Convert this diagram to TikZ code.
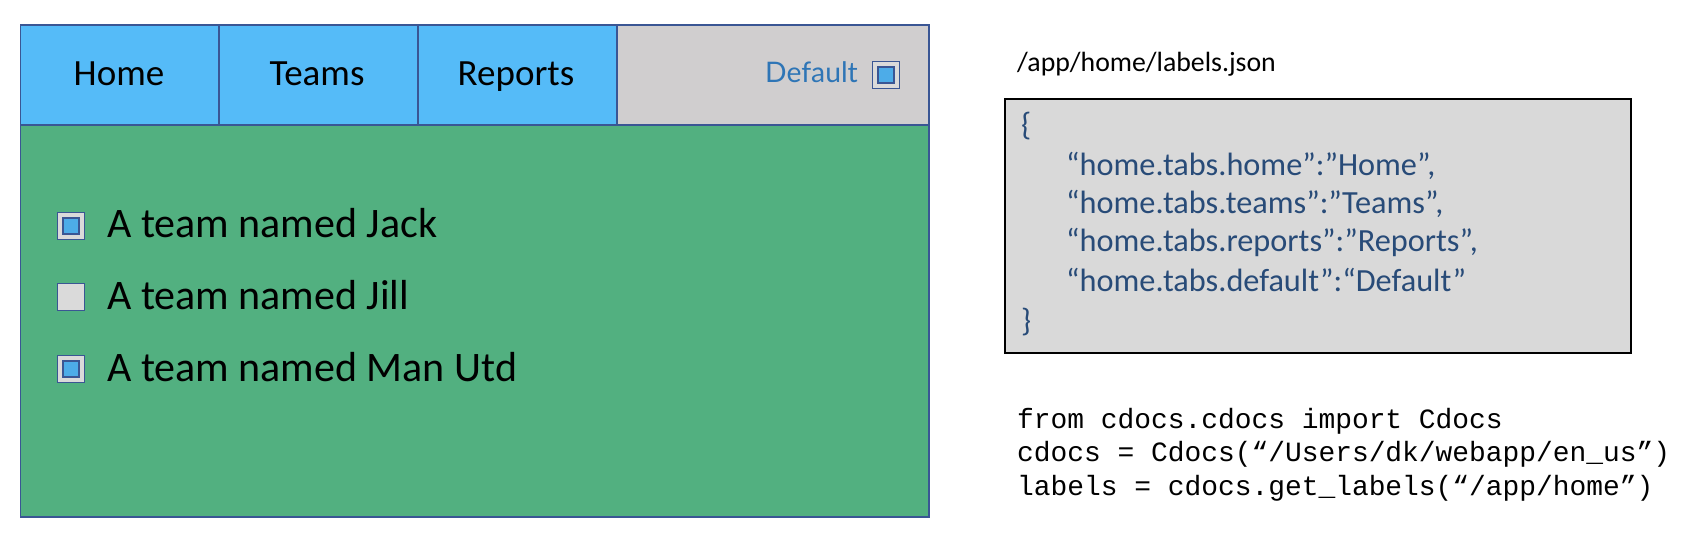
\documentclass[tikz,border=0pt]{standalone}
\usepackage{fontspec}
\setmainfont{Carlito}
\newfontfamily\avenirfont{Lato}
\newfontfamily\codefont{Liberation Mono}
\definecolor{tabblue}{RGB}{85,187,248}
\definecolor{tabgrey}{RGB}{208,206,207}
\definecolor{bodygreen}{RGB}{82,176,128}
\definecolor{frame}{RGB}{58,86,148}
\definecolor{deftext}{RGB}{46,117,182}
\definecolor{chkgrey}{RGB}{218,218,218}
\definecolor{chkblue}{RGB}{77,172,232}
\definecolor{jsonfill}{RGB}{217,217,217}
\definecolor{jsontext}{RGB}{40,75,120}
\tikzset{
  panel/.style={draw=frame, line width=1.5pt, inner sep=0pt, outer sep=0pt},
  tabbox/.style={panel, fill=tabblue, minimum height=100pt},
  tablabel/.style={anchor=base, inner sep=0pt, font=\fontsize{37}{44}\selectfont},
  chk/.style={draw=frame, line width=1.4pt, fill=chkgrey, minimum size=27pt, inner sep=0pt},
  chkin/.style={draw=frame, line width=1.4pt, fill=chkblue, minimum size=16pt, inner sep=0pt},
  itemlabel/.style={anchor=base west, inner sep=0pt, font=\fontsize{42}{48}\selectfont},
  jsonline/.style={anchor=base west, inner sep=0pt, text=jsontext, font=\fontsize{32.3}{38}\selectfont},
  codeline/.style={anchor=base west, inner sep=0pt, font=\codefont\fontsize{27.9}{33}\selectfont}
}
\begin{document}
\begin{tikzpicture}[x=1pt,y=-1pt]
\useasboundingbox (0,0) rectangle (1698,540);
\fill[white] (0,0) rectangle (1698,540);
% body
\node[panel, fill=bodygreen, minimum width=908.5pt, minimum height=392pt] (body) at (474.75,321) {};
% tabs
\node[tabbox, minimum width=198.5pt] (home) at (119.75,75) {};
\node[tabbox, minimum width=199pt] (teams) at (318.5,75) {};
\node[tabbox, minimum width=199pt] (reports) at (517.5,75) {};
\node[panel, fill=tabgrey, minimum width=312pt, minimum height=100pt] (deftab) at (773,75) {};
\node[tablabel] (homel) at (119,86) {Home};
\node[tablabel] (teamsl) at (317,86) {Teams};
\node[tablabel] (reportsl) at (516,86) {Reports};
\node[anchor=base east, inner sep=0pt, text=deftext, font=\avenirfont\fontsize{28.3}{33}\selectfont] (defl) at (858,83) {Default};
\node[chk] (dchk) at (886,75) {};
\node[chkin] (dchki) at (dchk) {};
% list
\node[chk] (c1) at (71,226) {};
\node[chkin] (c1i) at (c1) {};
\node[chk] (c2) at (71,297) {};
\node[chk] (c3) at (71,369) {};
\node[chkin] (c3i) at (c3) {};
\node[itemlabel] (t1) at (107,238) {A team named Jack};
\node[itemlabel] (t2) at (107,309) {A team named Jill};
\node[itemlabel] (t3) at (107,381) {A team named Man Utd};
% json
\node[anchor=base west, inner sep=0pt, font=\fontsize{27.8}{33}\selectfont] (path) at (1017,72) {/app/home/labels.json};
\node[draw=black, line width=2pt, fill=jsonfill, minimum width=626pt, minimum height=254pt, inner sep=0pt] (json) at (1318,226) {};
\node[jsonline] (j0) at (1021,136) {\{};
\node[jsonline] (j1) at (1066,176) {“home.tabs.home”:”Home”,};
\node[jsonline] (j2) at (1066,214) {“home.tabs.teams”:”Teams”,};
\node[jsonline] (j3) at (1066,252) {“home.tabs.reports”:”Reports”,};
\node[jsonline] (j4) at (1066,291) {“home.tabs.default”:“Default”};
\node[jsonline] (j5) at (1021,331) {\}};
% code
\node[codeline] (k1) at (1017,428) {from cdocs.cdocs import Cdocs};
\node[codeline] (k2) at (1017,461) {cdocs = Cdocs(“/Users/dk/webapp/en\_us”)};
\node[codeline] (k3) at (1017,495) {labels = cdocs.get\_labels(“/app/home”)};
\end{tikzpicture}
\end{document}
